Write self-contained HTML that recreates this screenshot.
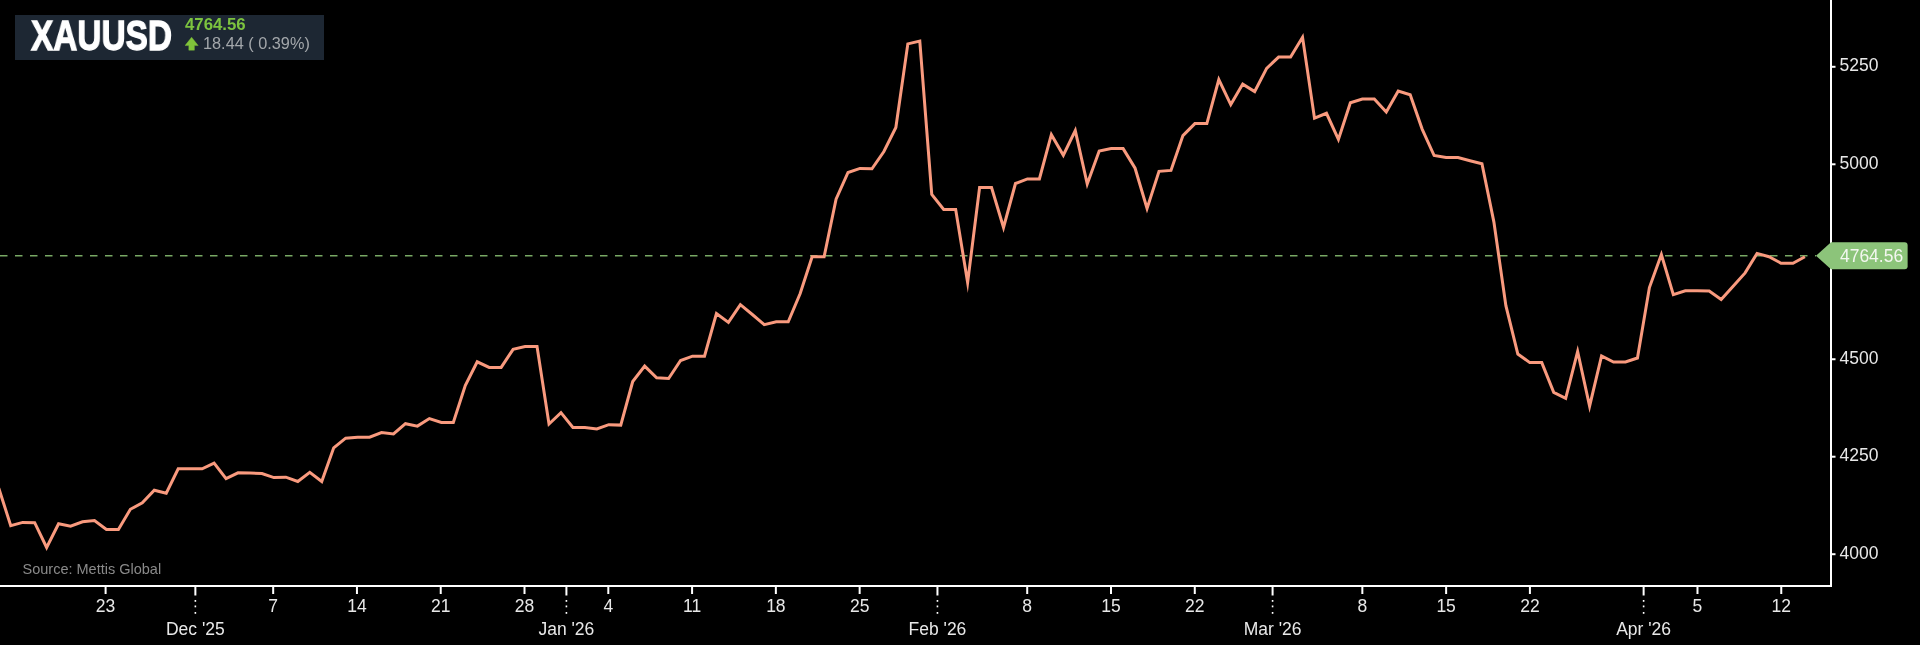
<!DOCTYPE html>
<html><head><meta charset="utf-8">
<style>
html,body{margin:0;padding:0;background:#000;}
body{width:1920px;height:645px;overflow:hidden;position:relative;font-family:"Liberation Sans",sans-serif;}
svg{position:absolute;left:0;top:0;will-change:transform;}
.hdr div{will-change:transform;}
.hdr{position:absolute;left:15px;top:15px;width:309px;height:45px;background:#1d2733;}
.sym{position:absolute;left:16px;top:-3.5px;font-weight:bold;font-size:42px;color:#fff;-webkit-text-stroke:1.3px #fff;transform:scaleX(0.795);transform-origin:0 0;white-space:nowrap;line-height:normal;}
.px{position:absolute;left:169.5px;top:0px;font-weight:bold;font-size:16.8px;color:#7cc33f;white-space:nowrap;}
.chg{position:absolute;left:188px;top:19px;font-size:16.3px;color:#a3a7ab;white-space:nowrap;}
</style></head><body>
<svg width="1920" height="645" viewBox="0 0 1920 645">
<defs><clipPath id="cp"><rect x="0" y="0" width="1830" height="585"/></clipPath></defs>
<line x1="0" y1="255.75" x2="1816" y2="255.75" stroke="#78a864" stroke-width="1.5" stroke-dasharray="7.5 7.5"/>
<polyline clip-path="url(#cp)" points="-1.21,488.20 10.75,525.70 22.71,522.40 34.67,522.70 46.63,547.50 58.59,523.80 70.56,526.10 82.52,521.80 94.48,520.50 106.44,529.40 118.40,529.40 130.36,509.30 142.32,502.80 154.28,490.20 166.24,493.20 178.20,468.80 190.16,468.80 202.13,468.80 214.09,463.20 226.05,478.60 238.01,472.80 249.97,473.00 261.93,473.50 273.89,477.60 285.85,477.20 297.81,481.50 309.78,472.40 321.74,481.50 333.70,447.80 345.66,438.20 357.62,437.20 369.58,437.20 381.54,432.60 393.50,433.90 405.46,423.70 417.42,426.10 429.38,418.60 441.35,422.40 453.31,422.40 465.27,385.60 477.23,361.80 489.19,367.40 501.15,367.40 513.11,349.30 525.07,346.50 537.03,346.50 549.00,424.00 560.96,412.60 572.92,427.50 584.88,427.50 596.84,429.00 608.80,424.70 620.76,425.10 632.72,381.50 644.68,366.10 656.64,377.80 668.61,378.50 680.57,360.50 692.53,356.20 704.49,356.20 716.45,313.60 728.41,322.40 740.37,304.70 752.33,314.50 764.29,324.60 776.25,321.80 788.22,321.80 800.18,293.50 812.14,256.80 824.10,256.80 836.06,199.10 848.02,172.50 859.98,168.40 871.94,168.80 883.90,151.50 895.86,127.50 907.83,43.90 919.79,41.10 931.75,194.40 943.71,209.50 955.67,209.50 967.63,282.50 979.59,187.60 991.55,187.60 1003.51,227.50 1015.47,183.50 1027.43,178.90 1039.40,178.90 1051.36,134.70 1063.32,155.20 1075.28,130.60 1087.24,184.00 1099.20,151.10 1111.16,148.60 1123.12,148.60 1135.08,168.20 1147.05,208.50 1159.01,171.30 1170.97,170.40 1182.93,135.60 1194.89,123.60 1206.85,123.60 1218.81,79.50 1230.77,104.60 1242.73,84.10 1254.69,91.50 1266.65,68.30 1278.62,57.10 1290.58,57.10 1302.54,37.30 1314.50,118.20 1326.46,113.30 1338.42,139.40 1350.38,102.70 1362.34,99.00 1374.30,99.00 1386.27,112.00 1398.23,91.00 1410.19,94.70 1422.15,129.10 1434.11,155.50 1446.07,157.60 1458.03,157.60 1469.99,160.70 1481.95,163.80 1493.91,222.10 1505.88,305.60 1517.84,354.00 1529.80,362.60 1541.76,362.60 1553.72,392.30 1565.68,398.30 1577.64,351.50 1589.60,406.20 1601.56,356.00 1613.52,362.00 1625.49,362.00 1637.45,358.00 1649.41,287.60 1661.37,254.50 1673.33,294.60 1685.29,290.70 1697.25,290.70 1709.21,291.00 1721.17,299.50 1733.13,286.20 1745.10,272.90 1757.06,253.40 1769.02,256.70 1780.98,263.20 1792.94,263.20 1804.90,256.70" fill="none" stroke="#f99a7e" stroke-width="3" stroke-linejoin="miter" stroke-miterlimit="10"/>
<rect x="1830" y="0" width="2" height="587" fill="#fff"/>
<rect x="0" y="585" width="1832" height="2" fill="#fff"/>
<rect x="1832" y="553.20" width="3.5" height="2" fill="#fff"/><rect x="1832" y="455.72" width="3.5" height="2" fill="#fff"/><rect x="1832" y="358.24" width="3.5" height="2" fill="#fff"/><rect x="1832" y="260.76" width="3.5" height="2" fill="#fff"/><rect x="1832" y="163.28" width="3.5" height="2" fill="#fff"/><rect x="1832" y="65.80" width="3.5" height="2" fill="#fff"/>
<rect x="104.60" y="587" width="2" height="7" fill="#fff"/><rect x="272.17" y="587" width="2" height="7" fill="#fff"/><rect x="355.95" y="587" width="2" height="7" fill="#fff"/><rect x="439.73" y="587" width="2" height="7" fill="#fff"/><rect x="523.51" y="587" width="2" height="7" fill="#fff"/><rect x="607.30" y="587" width="2" height="7" fill="#fff"/><rect x="691.08" y="587" width="2" height="7" fill="#fff"/><rect x="774.86" y="587" width="2" height="7" fill="#fff"/><rect x="858.65" y="587" width="2" height="7" fill="#fff"/><rect x="1026.21" y="587" width="2" height="7" fill="#fff"/><rect x="1110.00" y="587" width="2" height="7" fill="#fff"/><rect x="1193.78" y="587" width="2" height="7" fill="#fff"/><rect x="1361.34" y="587" width="2" height="7" fill="#fff"/><rect x="1445.13" y="587" width="2" height="7" fill="#fff"/><rect x="1528.91" y="587" width="2" height="7" fill="#fff"/><rect x="1696.48" y="587" width="2" height="7" fill="#fff"/><rect x="1780.26" y="587" width="2" height="7" fill="#fff"/><rect x="194.37" y="587" width="2" height="8.5" fill="#fff"/><rect x="194.57" y="600" width="1.6" height="1.8" fill="#fff"/><rect x="194.57" y="605.5" width="1.6" height="1.8" fill="#fff"/><rect x="194.57" y="612" width="1.6" height="1.8" fill="#fff"/><rect x="565.41" y="587" width="2" height="8.5" fill="#fff"/><rect x="565.61" y="600" width="1.6" height="1.8" fill="#fff"/><rect x="565.61" y="605.5" width="1.6" height="1.8" fill="#fff"/><rect x="565.61" y="612" width="1.6" height="1.8" fill="#fff"/><rect x="936.45" y="587" width="2" height="8.5" fill="#fff"/><rect x="936.65" y="600" width="1.6" height="1.8" fill="#fff"/><rect x="936.65" y="605.5" width="1.6" height="1.8" fill="#fff"/><rect x="936.65" y="612" width="1.6" height="1.8" fill="#fff"/><rect x="1271.58" y="587" width="2" height="8.5" fill="#fff"/><rect x="1271.78" y="600" width="1.6" height="1.8" fill="#fff"/><rect x="1271.78" y="605.5" width="1.6" height="1.8" fill="#fff"/><rect x="1271.78" y="612" width="1.6" height="1.8" fill="#fff"/><rect x="1642.62" y="587" width="2" height="8.5" fill="#fff"/><rect x="1642.82" y="600" width="1.6" height="1.8" fill="#fff"/><rect x="1642.82" y="605.5" width="1.6" height="1.8" fill="#fff"/><rect x="1642.82" y="612" width="1.6" height="1.8" fill="#fff"/>
<g font-family="Liberation Sans" font-size="17.5" fill="#e8e8e8">
<text x="1839.5" y="558.80">4000</text><text x="1839.5" y="461.32">4250</text><text x="1839.5" y="363.84">4500</text><text x="1839.5" y="168.88">5000</text><text x="1839.5" y="71.40">5250</text>
<text x="105.60" y="611.9" text-anchor="middle">23</text><text x="273.17" y="611.9" text-anchor="middle">7</text><text x="356.95" y="611.9" text-anchor="middle">14</text><text x="440.73" y="611.9" text-anchor="middle">21</text><text x="524.51" y="611.9" text-anchor="middle">28</text><text x="608.30" y="611.9" text-anchor="middle">4</text><text x="692.08" y="611.9" text-anchor="middle">11</text><text x="775.86" y="611.9" text-anchor="middle">18</text><text x="859.65" y="611.9" text-anchor="middle">25</text><text x="1027.21" y="611.9" text-anchor="middle">8</text><text x="1111.00" y="611.9" text-anchor="middle">15</text><text x="1194.78" y="611.9" text-anchor="middle">22</text><text x="1362.34" y="611.9" text-anchor="middle">8</text><text x="1446.13" y="611.9" text-anchor="middle">15</text><text x="1529.91" y="611.9" text-anchor="middle">22</text><text x="1697.48" y="611.9" text-anchor="middle">5</text><text x="1781.26" y="611.9" text-anchor="middle">12</text><text x="195.37" y="634.7" text-anchor="middle">Dec '25</text><text x="566.41" y="634.7" text-anchor="middle">Jan '26</text><text x="937.45" y="634.7" text-anchor="middle">Feb '26</text><text x="1272.58" y="634.7" text-anchor="middle">Mar '26</text><text x="1643.62" y="634.7" text-anchor="middle">Apr '26</text>
</g>
<text x="22.5" y="573.75" font-family="Liberation Sans" font-size="14.5" fill="#8a8a8a">Source: Mettis Global</text>
<path d="M1816,255.7 L1831,242.2 L1904.6,242.2 Q1907.6,242.2 1907.6,245.2 L1907.6,266.2 Q1907.6,269.2 1904.6,269.2 L1831,269.2 Z" fill="#8cc47a"/>
<text x="1903.2" y="261.9" text-anchor="end" font-family="Liberation Sans" font-size="17.5" fill="#f3f7f0">4764.56</text>
</svg>
<div class="hdr">
<div class="sym">XAUUSD</div>
<div class="px">4764.56</div>
<svg width="14" height="14" style="left:169.5px;top:22px" viewBox="0 0 14 14"><path d="M6.6,0.2 L13.2,8.6 L9.4,8.6 L9.4,13.2 L3.8,13.2 L3.8,8.6 L0,8.6 Z" fill="#80c43a" stroke="#80c43a" stroke-width="0.4" stroke-linejoin="round"/></svg>
<div class="chg">18.44 ( 0.39%)</div>
</div>
</body></html>
